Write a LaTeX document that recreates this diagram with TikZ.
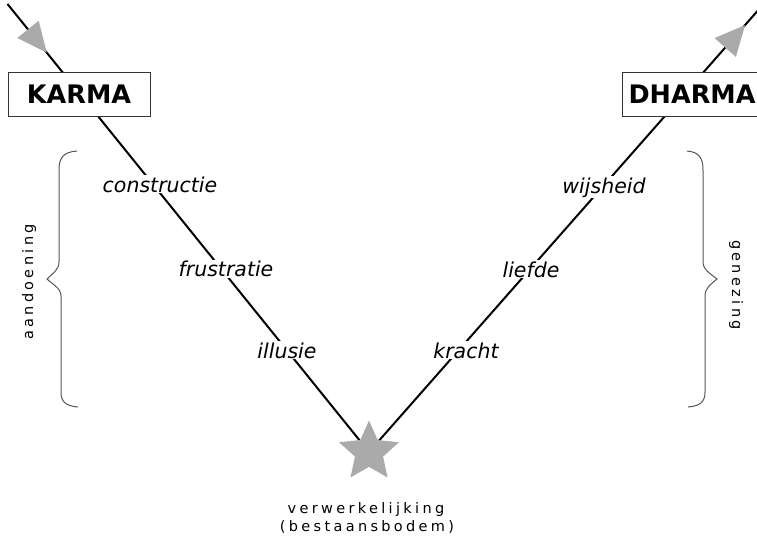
\documentclass[tikz,border=0pt]{standalone}
\usepackage{fontspec}
\setmainfont{DejaVu Sans}
\newfontfamily\spacedfont[LetterSpace=23]{DejaVu Sans}
\usetikzlibrary{shapes.geometric,arrows.meta,decorations.markings}
\definecolor{stargray}{HTML}{AAAAAA}
\definecolor{bracegray}{HTML}{555555}
\definecolor{boxgray}{HTML}{333333}
\pgfdeclarelayer{bg}
\pgfsetlayers{bg,main}
\tikzset{
  titlebox/.style={draw=boxgray, line width=1pt, fill=white, minimum height=44pt,
    inner xsep=6pt, font=\fontsize{25.5}{30}\selectfont\bfseries},
  linelabel/.style={fill=white, inner sep=1pt, anchor=base,
    font=\fontsize{20.5}{24}\selectfont\itshape},
  mainline/.style={line width=2pt, black},
  bracestyle/.style={draw=bracegray, line width=1pt},
  sidelabel/.style={font=\fontsize{14.5}{16}\selectfont\spacedfont},
}
\begin{document}
\begin{tikzpicture}[x=1pt,y=-1pt]
\useasboundingbox (0,0) rectangle (757,536);
% nodes
\coordinate (ls) at (7.5,4);
\coordinate (re) at (768,-1);
\node[titlebox, minimum width=142pt] (karma) at (79,94) {KARMA};
\node[titlebox, anchor=west] (dharma) at (622,94) {DHARMA};
\node[star, star points=5, star point ratio=0.47, minimum size=29.6pt, inner sep=0pt,
      shape border rotate=180, fill=stargray] (star) at (369,452) {};
% line labels
\node[linelabel] (l1) at (160,192) {constructie};
\node[linelabel] (l2) at (226,276.5) {frustratie};
\node[linelabel] (l3) at (287,358) {illusie};
\node[linelabel] (r1) at (466,358) {kracht};
\node[linelabel] (r2) at (531,277) {liefde};
\node[linelabel] (r3) at (604,193) {wijsheid};
% side labels
\node[sidelabel, rotate=90] (aand) at (29,282) {aandoening};
\node[sidelabel, rotate=-90] (genez) at (736,285) {genezing};
% bottom labels
\node[sidelabel, anchor=base] (verw) at (366,513) {verwerkelijking};
\node[sidelabel, anchor=base] (best) at (367,531) {(bestaansbodem)};
% lines
\begin{pgfonlayer}{bg}
\draw[mainline, postaction={decorate}, decoration={markings,
  mark=at position 62.6pt with {\arrow{Triangle[length=30pt,width=27pt,color=stargray,fill=stargray]}}}]
  (ls) -- (star.center);
\draw[mainline, postaction={decorate}, decoration={markings,
  mark=at position 569pt with {\arrow{Triangle[length=30pt,width=28pt,color=stargray,fill=stargray]}}}]
  (star.center) -- (re);
\end{pgfonlayer}
% braces
\draw[bracestyle] (77,151) .. controls (63,152) and (59,158) .. (59,170) -- (59,262)
  .. controls (59,270) and (52,274) .. (47,279)
  .. controls (52,284) and (61,288) .. (61,296) -- (61,392)
  .. controls (61,402) and (66,406) .. (78,407);
\draw[bracestyle] (687,151) .. controls (699,152) and (703,158) .. (703,170) -- (703,262)
  .. controls (703,270) and (711,274) .. (717,279)
  .. controls (711,284) and (705,288) .. (705,296) -- (705,392)
  .. controls (705,402) and (700,406) .. (688,407);
\end{tikzpicture}
\end{document}
